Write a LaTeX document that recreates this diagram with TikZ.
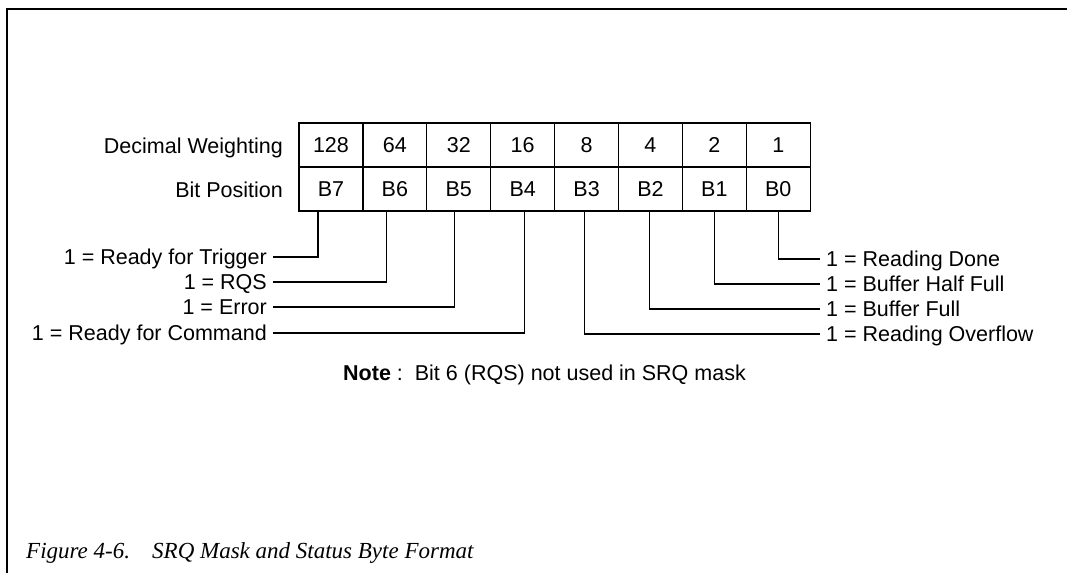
\documentclass[tikz,border=0pt]{standalone}
\usepackage{fontspec}
\setmainfont{Liberation Sans}
\newfontfamily\capfont{Liberation Serif}
\newcommand\fs{\fontsize{21.5}{26}\selectfont}
\begin{document}
\begin{tikzpicture}[x=1pt,y=-1pt,
  cell/.style={draw, line width=1.2pt, minimum width=63.9pt, minimum height=44pt, inner sep=0pt, font=\fs, anchor=center},
  lab/.style={font=\fs, inner xsep=6pt, inner ysep=0pt, text height=15.5pt, text depth=0pt},
  head/.style={font=\fs, inner sep=0pt, anchor=base east},
  conn/.style={line width=1.2pt},
  framestyle/.style={line width=2.5pt},
  captext/.style={font=\capfont\itshape\fontsize{23}{26}\selectfont, inner sep=0pt, anchor=base west}]
\useasboundingbox (0,0) rectangle (1067,573);
% frame
\draw[framestyle] (7,573) -- (7,9) -- (1067,9);
% cells
\foreach \v/\n [count=\i from 0] in {128/7,64/6,32/5,16/4,8/3,4/2,2/1,1/0} {
  \node[cell] (w\n) at ({299+63.9*(\i+0.5)},145) {\v};
  \node[cell] (b\n) at ({299+63.9*(\i+0.5)},189) {B\n};
}
% row headings
\node[head] (dw) at (283,153) {Decimal Weighting};
\node[head] (bp) at (283,197) {Bit Position};
% left labels
\node[lab, anchor=east] (l7) at (273,257) {1 = Ready for Trigger};
\node[lab, anchor=east] (l6) at (273,282) {1 = RQS};
\node[lab, anchor=east] (l5) at (273,307) {1 = Error};
\node[lab, anchor=east] (l4) at (273,333) {1 = Ready for Command};
% right labels
\node[lab, anchor=west] (r0) at (820,259) {1 = Reading Done};
\node[lab, anchor=west] (r1) at (820,284) {1 = Buffer Half Full};
\node[lab, anchor=west] (r2) at (820,309) {1 = Buffer Full};
\node[lab, anchor=west] (r3) at (820,334) {1 = Reading Overflow};
% connectors
\draw[conn] ([xshift=-13pt]b7.south) |- (l7.east);
\draw[conn] ([xshift=-8pt]b6.south) |- (l6.east);
\draw[conn] ([xshift=-4pt]b5.south) |- (l5.east);
\draw[conn] ([xshift=2pt]b4.south) |- (l4.east);
\draw[conn] (b0.south) |- (r0.west);
\draw[conn] (b1.south) |- (r1.west);
\draw[conn] ([xshift=-1pt]b2.south) |- (r2.west);
\draw[conn] ([xshift=-2pt]b3.south) |- (r3.west);
% note
\node[font=\fs, inner sep=0pt, anchor=base west] (note) at (343,380) {\textbf{Note} :\ \ Bit 6 (RQS) not used in SRQ mask};
% caption
\node[captext] (fig) at (26,558) {Figure 4-6.};
\node[captext] (title) at (152,558) {SRQ Mask and Status Byte Format};
\end{tikzpicture}
\end{document}
